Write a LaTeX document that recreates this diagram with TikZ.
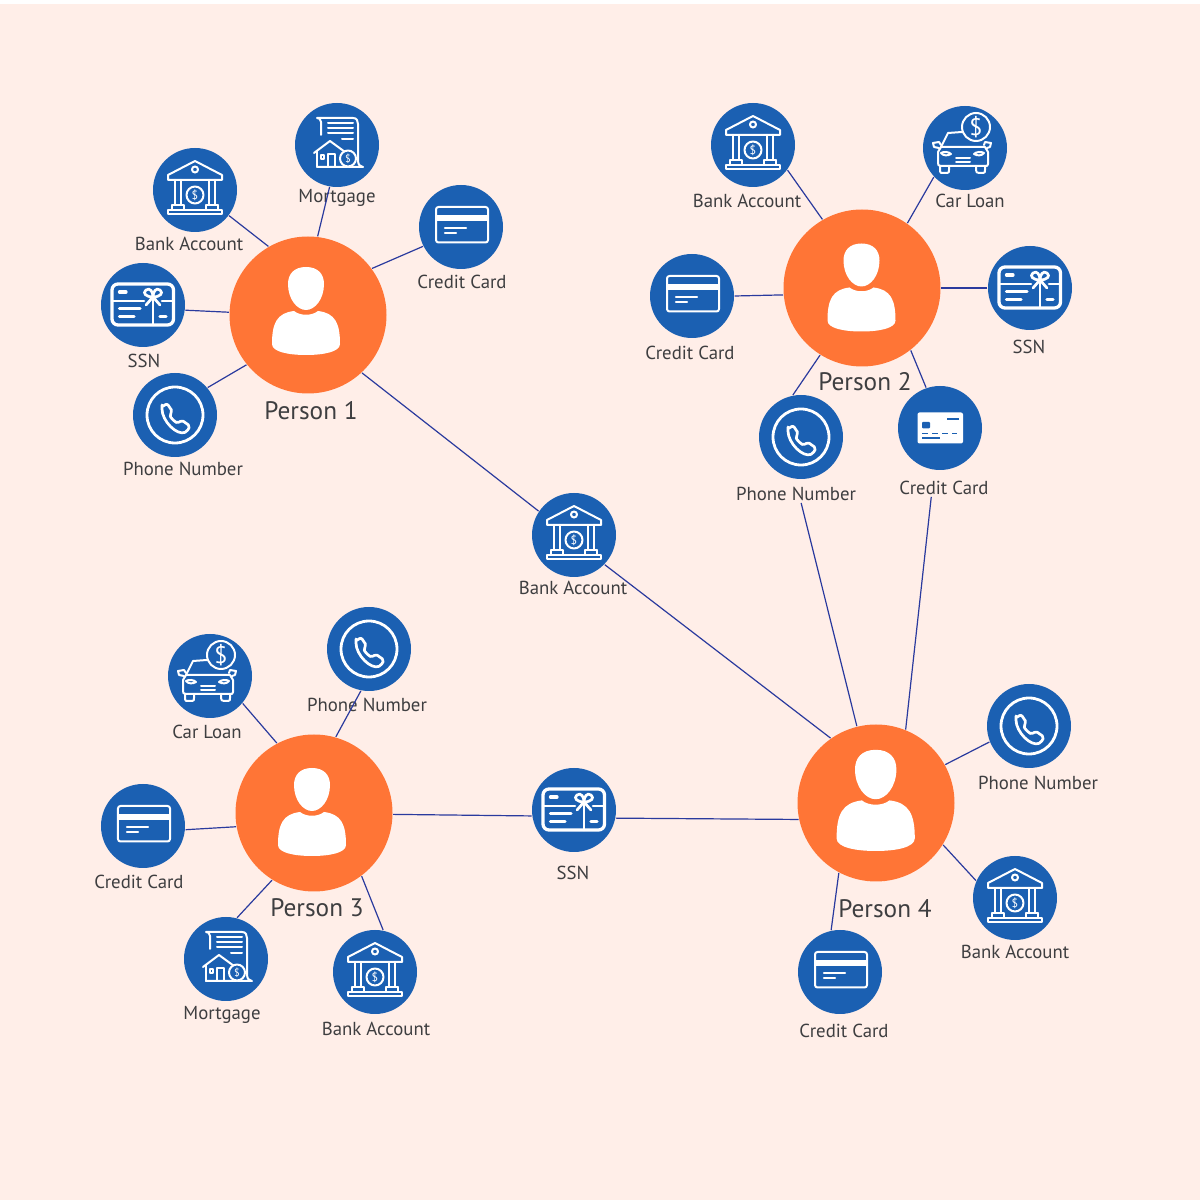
\documentclass[tikz,border=0pt]{standalone}
\usepackage{fontspec}
\setmainfont{PT Sans}
\usepackage{tikz}
\usetikzlibrary{calc,positioning,shapes,arrows,backgrounds}
\definecolor{pagebg}{HTML}{FFEEE8}
\definecolor{dotblue}{HTML}{1B60B2}
\definecolor{personorange}{HTML}{FF7536}
\definecolor{linkblue}{HTML}{2A3A9E}
\definecolor{labelgrey}{HTML}{3E3E40}
\tikzset{
	every pic/.style={x=0.1mm,y=-0.1mm},
	person/.style={circle,fill=personorange,minimum size=15.7mm,inner sep=0pt},
	dot/.style={circle,fill=dotblue,minimum size=8.4mm,inner sep=0pt},
	lbl/.style={text=labelgrey,inner sep=0.4pt,font=\fontsize{5.35pt}{6pt}\selectfont},
	biglbl/.style={text=labelgrey,inner sep=0.4pt,font=\fontsize{7.2pt}{8pt}\selectfont},
	link/.style={draw=linkblue,line width=0.12mm},
	thin line/.style={draw=white,line width=0.2mm,line join=round,line cap=round},
	thick line/.style={draw=white,line width=0.33mm,line join=round,line cap=round},
	coin/.style={text=white,inner sep=0pt,font=\fontsize{#1}{#1}\selectfont},
	pics/personicon/.style={code={
		\fill[white] (-2,-48) .. controls (-14,-48) and (-20,-41) .. (-20,-31) .. controls (-20,-16) and (-11,-5) .. (-2,-5) .. controls (7,-5) and (16,-16) .. (16,-31) .. controls (16,-41) and (10,-48) .. (-2,-48) -- cycle;
		\fill[white] (-36,29) .. controls (-36,8) and (-31,-2) .. (-14,-4) .. controls (-8,1) and (4,1) .. (10,-4) .. controls (27,-2) and (32,8) .. (32,29) .. controls (32,37) and (15,40) .. (-2,40) .. controls (-19,40) and (-36,37) .. (-36,29) -- cycle;
	}},
	pics/bankicon/.style={code={
		\draw[thin line] (-27,-15) -- (0,-29) -- (27,-15) -- (27,-10) -- (-27,-10) -- cycle;
		\draw[thin line] (0,-20.5) circle (3);
		\draw[thin line] (-20,-10) -- (-20,15) (-14,-10) -- (-14,15) (14,-10) -- (14,15) (20,-10) -- (20,15);
		\draw[thin line] (-23,15) -- (-11,15) -- (-11,20) (-23,15) -- (-23,20) (23,15) -- (11,15) -- (11,20) (23,15) -- (23,20);
		\draw[thin line] (-27,20) rectangle (27,24.5);
		\draw[thin line] (0,5) circle (8.5);
		\node[coin=3.4pt] (-usd) at (0,5) {\$};
	}},
	pics/mortgageicon/.style={code={
		\draw[thin line] (-16,-10) -- (-16,-23) .. controls (-16,-26) and (-18,-27) .. (-20,-27) -- (16,-27) .. controls (20,-27) and (21,-24) .. (21,-21) -- (21,16) .. controls (21,20) and (24,22) .. (26,22) -- (-20,22);
		\draw[thin line] (-9,-22) -- (16,-22) (-9,-17) -- (16,-17) (-9,-12) -- (16,-12) (5,-6) -- (16,-6);
		\draw[thin line] (-23,8) -- (-7,-4) -- (8,7);
		\draw[thin line] (-20,6) -- (-20,22) (-9,22) -- (-9,9) -- (-2,9) -- (-2,22);
		\draw[thin line] (-16.5,10) rectangle (-13,14);
		\fill[dotblue] (11,13.5) circle (8.6);
		\draw[thin line] (11,13.5) circle (8);
		\node[coin=3pt] (-usd) at (11,13.5) {\$};
	}},
	pics/cardicon/.style={code={
		\draw[thin line,rounded corners=0.25mm] (-25,-20) rectangle (27,15.5);
		\fill[white] (-25,-12) rectangle (27,-5.5);
		\draw[thin line,line width=0.22mm] (-16,1) -- (5,1) (-16,6) -- (-5,6);
	}},
	pics/solidcardicon/.style={code={
		\fill[white,rounded corners=0.2mm] (-22.5,-15.5) rectangle (23,15.5);
		\fill[dotblue,rounded corners=0.1mm] (-18,-6) rectangle (-10,0.5);
		\draw[dotblue,line width=0.17mm] (7,-9) -- (19,-9) (-18,5.5) -- (-12,5.5) (-8,5.5) -- (-2,5.5) (2,5.5) -- (8,5.5) (12,5.5) -- (17,5.5) (-18,10) -- (0,10);
	}},
	pics/ssnicon/.style={code={
		\draw[thick line,rounded corners=0.6mm] (-31,-21) rectangle (30.5,20);
		\draw[thick line,line width=0.26mm] (10,-6) -- (10,20) (-31,-4) -- (1,-4) (19,-4) -- (30.5,-4);
		\draw[thick line] (-23.5,-13) -- (-17,-13) (-23.5,3.5) -- (-3,3.5) (-23.5,11.5) -- (-9,11.5) (17,11.5) -- (23,11.5);
		\draw[thick line,line width=0.27mm] (10,-8) .. controls (3,-8) and (-1,-12) .. (3,-15) .. controls (7,-18) and (10,-13) .. (10,-8) .. controls (10,-13) and (13,-18) .. (17,-15) .. controls (21,-12) and (17,-8) .. (10,-8) -- (3,0) (10,-8) -- (17,0);
	}},
	pics/phoneicon/.style={code={
		\draw[thin line,line width=0.28mm] (0,0) circle (28);
		\draw[thick line,line width=0.27mm,rounded corners=0.2mm] (-13,-8) -- (-8,-11.5) -- (-2.5,-3.5) -- (-5.5,-0.5) .. controls (-4,3) and (-1,6) .. (3,8.5) -- (6.5,5) -- (15,11) -- (12,16.5) .. controls (2,21) and (-13,6) .. (-13,-8) -- cycle;
	}},
	pics/caricon/.style={code={
		\draw[thin line] (-24,-1) -- (-17,-15) -- (-3,-16);
		\draw[thin line] (20,-1) -- (23,4) -- (23,16) .. controls (23,18) and (22,18) .. (20,18) -- (-24,18) .. controls (-27,18) and (-27,17) .. (-27,14) -- (-27,4) -- (-24,-1) -- (20,-1);
		\draw[thin line] (-25,18) -- (-25,23) .. controls (-25,25) and (-24,25) .. (-22,25) -- (-18,25) .. controls (-16,25) and (-16,24) .. (-16,22) -- (-16,18);
		\draw[thin line] (11,18) -- (11,22) .. controls (11,24) and (12,25) .. (14,25) -- (18,25) .. controls (20,25) and (20,24) .. (20,22) -- (20,18);
		\draw[thin line] (-26,0) -- (-31,-1) -- (-32,-5) -- (-26,-6) -- (-24,-3);
		\draw[thin line] (22,0) -- (25,-1) -- (26,-5) -- (20,-6) -- (19,-3);
		\draw[thin line] (-24,5) .. controls (-21,3) and (-16,4) .. (-14,6) .. controls (-17,8) and (-22,8) .. (-24,5) -- cycle;
		\draw[thin line] (19,5) .. controls (16,3) and (11,4) .. (9,6) .. controls (12,8) and (17,8) .. (19,5) -- cycle;
		\draw[thin line] (-9,10) -- (5,10) (-9,14) -- (5,14);
		\fill[dotblue] (11,-21) circle (14.6);
		\draw[thin line] (11,-21) circle (14);
		\node[coin=6.8pt] (-usd) at (11,-21) {\$};
	}},
}
\begin{document}
\begin{tikzpicture}
		\useasboundingbox (0,0) rectangle (12,12);
		\fill[white] (0,0) rectangle (12,12);
		\fill[pagebg] (0,0) rectangle (12,11.96);
		\node[person] (p1) at (3.08,8.85) {};
		\node[person] (p2) at (8.62,9.12) {};
		\node[person] (p3) at (3.14,3.87) {};
		\node[person] (p4) at (8.76,3.97) {};
		\pic (p1i) at (p1) {personicon};
		\pic (p2i) at ($(p2)+(0.015,-0.035)$) {personicon};
		\pic (p3i) at ($(p3)+(0,-0.03)$) {personicon};
		\pic[scale=1.15] (p4i) at ($(p4)+(0.02,-0.02)$) {personicon};
		\node[dot] (mortgage1) at (3.37,10.55) {};
		\node[dot] (bank1) at (1.95,10.10) {};
		\node[dot] (card1) at (4.61,9.73) {};
		\node[dot] (ssn1) at (1.43,8.95) {};
		\node[dot] (phone1) at (1.75,7.85) {};
		\node[dot] (bank2) at (7.53,10.55) {};
		\node[dot] (car2) at (9.65,10.52) {};
		\node[dot] (ssn2) at (10.30,9.12) {};
		\node[dot] (card2) at (6.92,9.04) {};
		\node[dot] (phone2) at (8.01,7.63) {};
		\node[dot] (solid2) at (9.40,7.72) {};
		\node[dot] (bankmid) at (5.74,6.65) {};
		\node[dot] (ssnmid) at (5.74,3.90) {};
		\node[dot] (car3) at (2.10,5.24) {};
		\node[dot] (phone3) at (3.69,5.51) {};
		\node[dot] (card3) at (1.43,3.74) {};
		\node[dot] (mortgage3) at (2.26,2.41) {};
		\node[dot] (bank3) at (3.75,2.28) {};
		\node[dot] (phone4) at (10.29,4.74) {};
		\node[dot] (bank4) at (10.15,3.02) {};
		\node[dot] (card4) at (8.40,2.28) {};
		\pic (mortgage1i) at (mortgage1) {mortgageicon};
		\pic (bank1i) at (bank1) {bankicon};
		\pic (card1i) at (card1) {cardicon};
		\pic (ssn1i) at (ssn1) {ssnicon};
		\pic (phone1i) at (phone1) {phoneicon};
		\pic (bank2i) at (bank2) {bankicon};
		\pic (car2i) at (car2) {caricon};
		\pic (ssn2i) at (ssn2) {ssnicon};
		\pic (card2i) at (card2) {cardicon};
		\pic (phone2i) at (phone2) {phoneicon};
		\pic (solid2i) at (solid2) {solidcardicon};
		\pic (bankmidi) at (bankmid) {bankicon};
		\pic (ssnmidi) at (ssnmid) {ssnicon};
		\pic (car3i) at (car3) {caricon};
		\pic (phone3i) at (phone3) {phoneicon};
		\pic (card3i) at (card3) {cardicon};
		\pic (mortgage3i) at (mortgage3) {mortgageicon};
		\pic (bank3i) at (bank3) {bankicon};
		\pic (phone4i) at (phone4) {phoneicon};
		\pic (bank4i) at (bank4) {bankicon};
		\pic (card4i) at (card4) {cardicon};
		\node[biglbl] (p1l) at (3.11,7.89) {Person 1};
		\node[biglbl] (p2l) at (8.65,8.18) {Person 2};
		\node[biglbl] (p3l) at (3.17,2.92) {Person 3};
		\node[biglbl] (p4l) at (8.85,2.91) {Person 4};
		\node[lbl] (mortgage1l) at (3.37,10.02) {Mortgage};
		\node[lbl] (bank1l) at (1.89,9.56) {Bank Account};
		\node[lbl] (card1l) at (4.62,9.18) {Credit Card};
		\node[lbl] (ssn1l) at (1.44,8.39) {SSN};
		\node[lbl] (phone1l) at (1.83,7.31) {Phone Number};
		\node[lbl] (bank2l) at (7.47,9.99) {Bank Account};
		\node[lbl] (car2l) at (9.70,9.99) {Car Loan};
		\node[lbl] (ssn2l) at (10.29,8.53) {SSN};
		\node[lbl] (card2l) at (6.90,8.47) {Credit Card};
		\node[lbl] (phone2l) at (7.96,7.06) {Phone Number};
		\node[lbl] (solid2l) at (9.44,7.12) {Credit Card};
		\node[lbl] (bankmidl) at (5.73,6.12) {Bank Account};
		\node[lbl] (ssnmidl) at (5.73,3.27) {SSN};
		\node[lbl] (car3l) at (2.07,4.68) {Car Loan};
		\node[lbl] (phone3l) at (3.67,4.95) {Phone Number};
		\node[lbl] (card3l) at (1.39,3.18) {Credit Card};
		\node[lbl] (mortgage3l) at (2.22,1.85) {Mortgage};
		\node[lbl] (bank3l) at (3.76,1.71) {Bank Account};
		\node[lbl] (phone4l) at (10.38,4.17) {Phone Number};
		\node[lbl] (bank4l) at (10.15,2.48) {Bank Account};
		\node[lbl] (card4l) at (8.44,1.69) {Credit Card};
		\path[link]
			(bank1.-37) edge (p1.120)
			(mortgage1.260) edge (p1.83)
			(card1.207) edge (p1.36)
			(ssn1.353) edge (p1.178)
			(phone1.40) edge (p1.219)
			(p1.313) edge (bankmid.146)
			(bankmid.316) edge (p4.125)
			(bank2.-36) edge (p2.120)
			(car2.223) edge (p2.55)
			(ssn2.180) edge (p2.0)
			(card2.0) edge (p2.185)
			(phone2.101) edge (p2.238)
			(solid2.109) edge (p2.308)
			(car3.-40) edge (p3.118)
			(phone3.259) edge (p3.74)
			(card3.-5) edge (p3.190)
			(mortgage3.75) edge (p3.238)
			(bank3.79) edge (p3.307)
			(p3.-1) edge (ssnmid.188)
			(ssnmid.349) edge (p4.192)
			(phone4.202) edge (p4.29)
			(bank4.156) edge (p4.328)
			(card4.102) edge (p4.242)
			(phone2l.-60) edge (p4.104)
			(solid2l.-145) edge (p4.68);
	\end{tikzpicture}
\end{document}
